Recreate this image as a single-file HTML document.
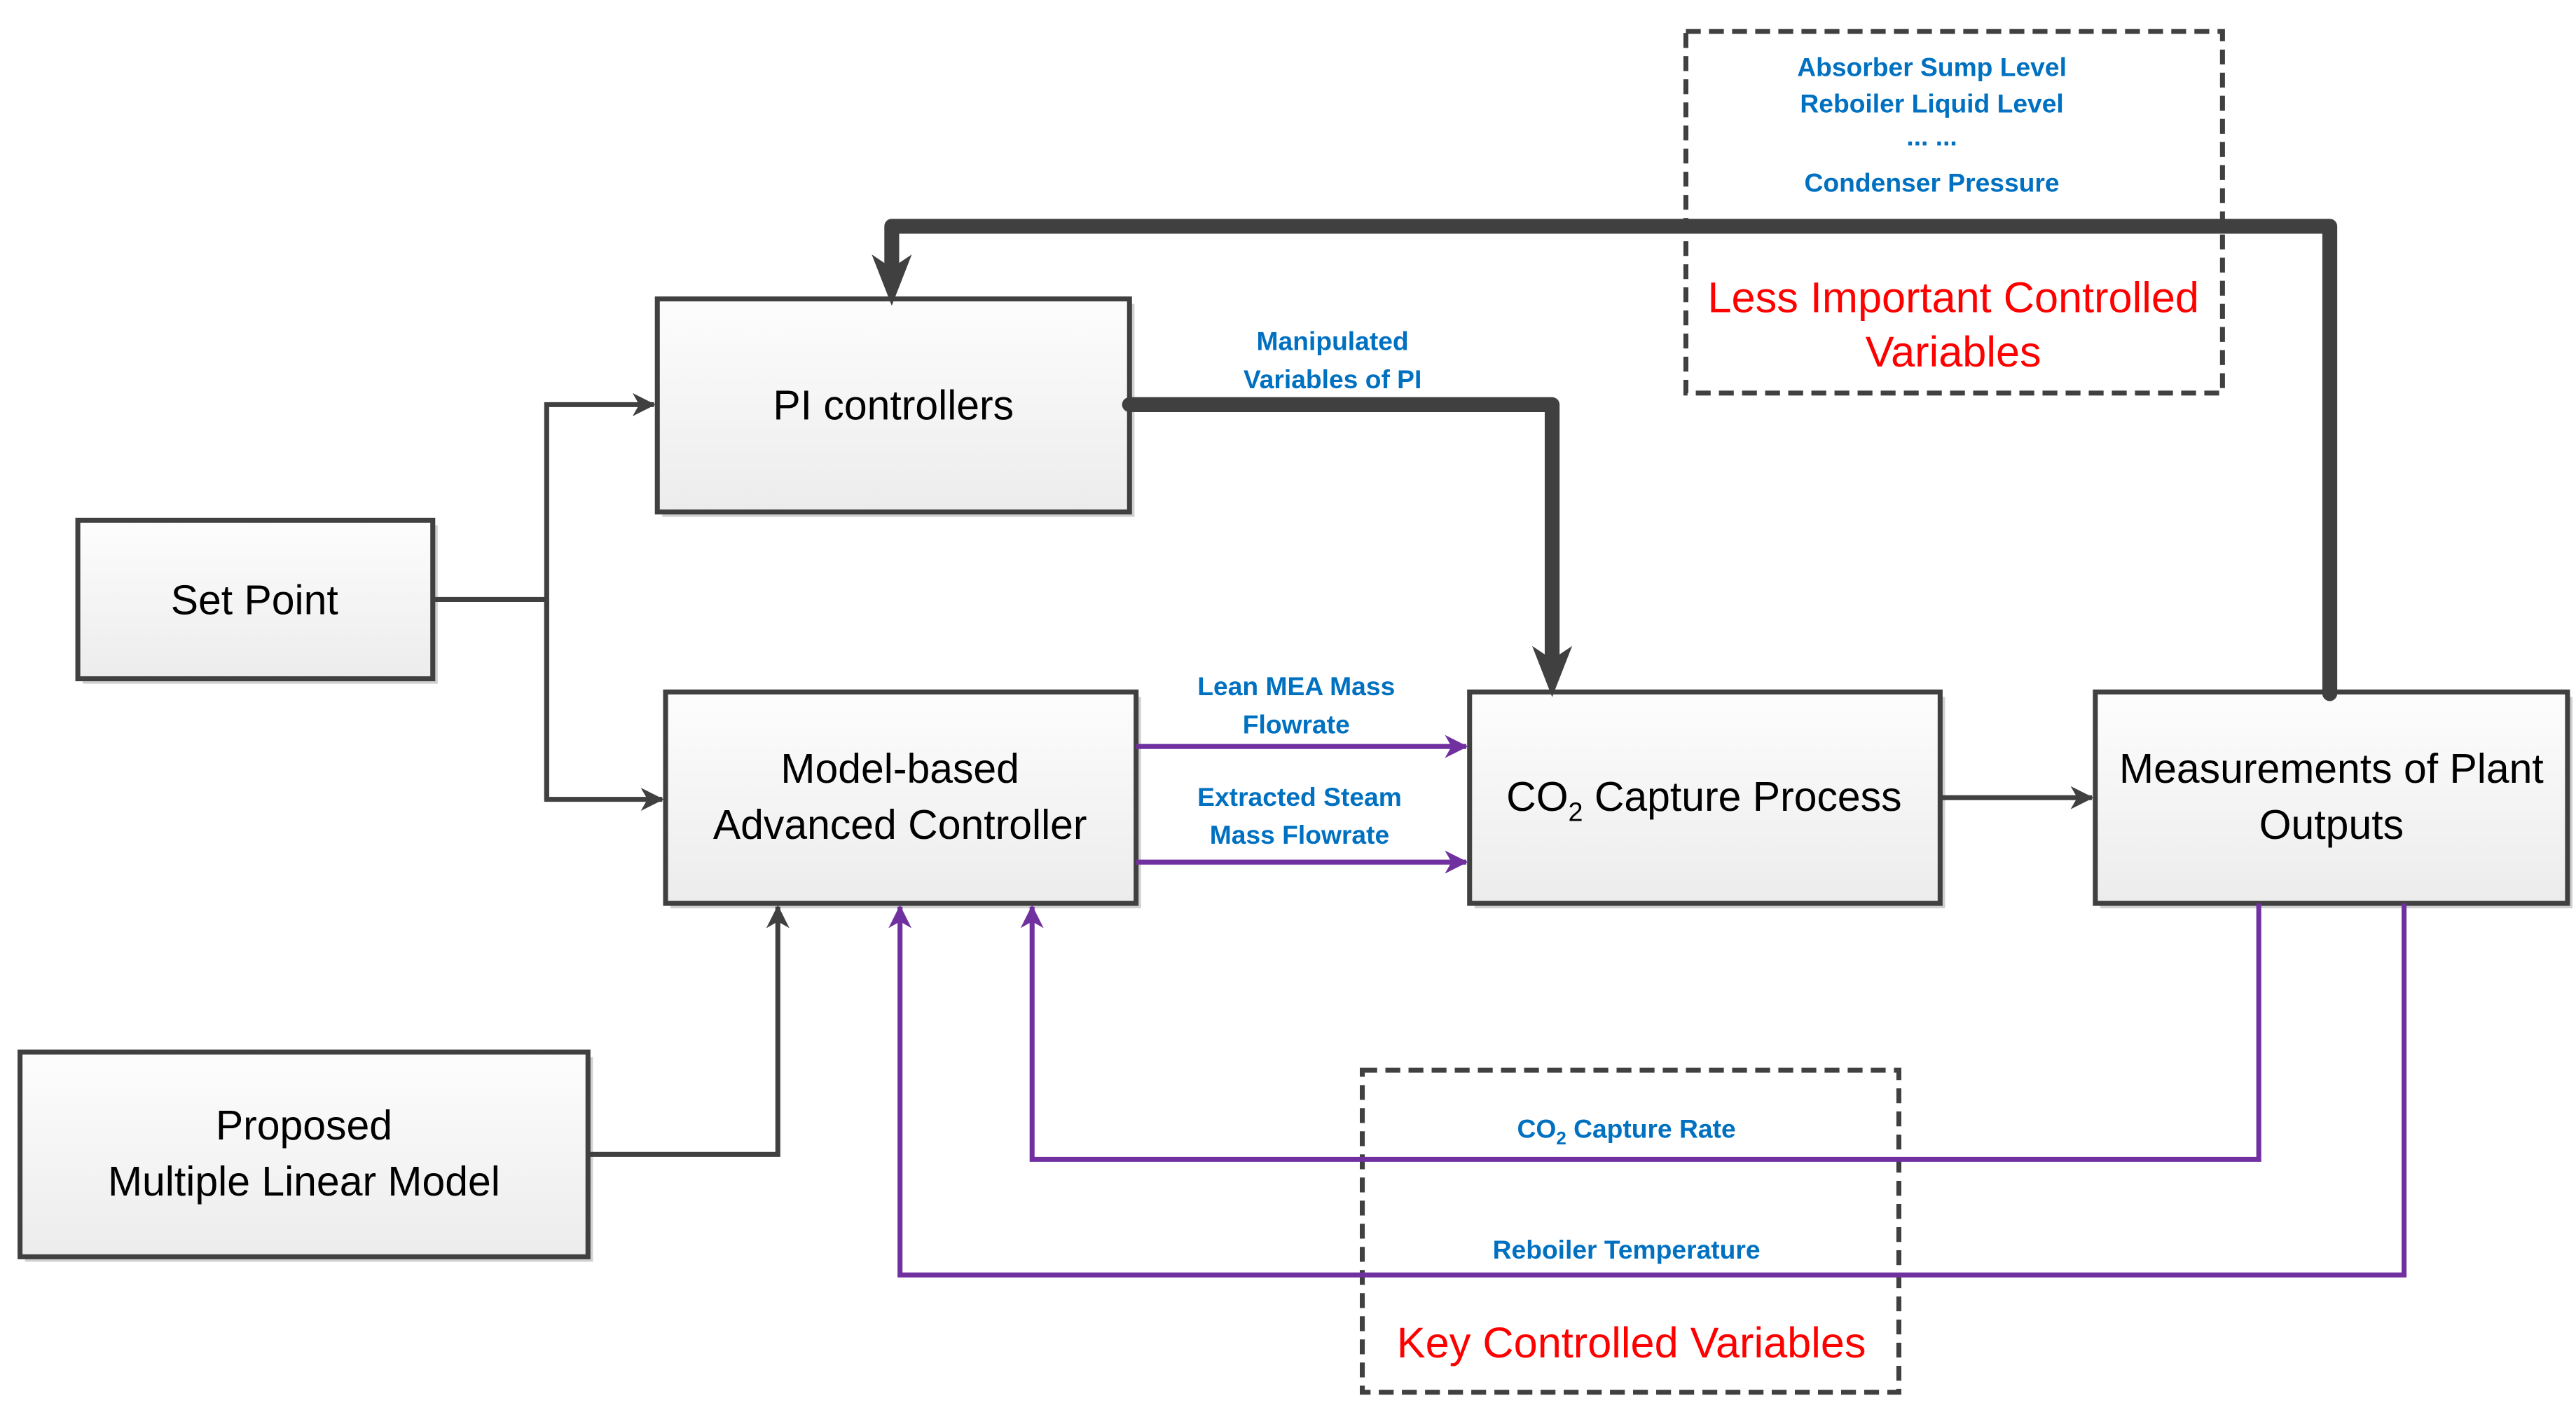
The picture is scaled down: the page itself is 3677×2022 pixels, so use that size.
<!DOCTYPE html>
<html><head><meta charset="utf-8"><style>html,body{margin:0;padding:0;background:#fff}svg{display:block}</style></head>
<body>
<svg width="3677" height="2022" viewBox="0 0 1560 858" xmlns="http://www.w3.org/2000/svg" font-family="Liberation Sans, sans-serif">
<defs>
<linearGradient id="g" x1="0" y1="0" x2="0" y2="1"><stop offset="0" stop-color="#fdfdfd"/><stop offset="1" stop-color="#ececec"/></linearGradient>
<marker id="ag" markerWidth="14" markerHeight="14" refX="13" refY="7" orient="auto" markerUnits="userSpaceOnUse"><path d="M0,0 L14,7 L0,14 L4,7 z" fill="#404040"/></marker>
<marker id="ap" markerWidth="14" markerHeight="14" refX="13" refY="7" orient="auto" markerUnits="userSpaceOnUse"><path d="M0,0 L14,7 L0,14 L4,7 z" fill="#7030a0"/></marker>
</defs>
<g fill="#d0d0d0">
<rect x="50" y="318" width="215" height="96"/><rect x="401" y="184" width="286" height="129"/><rect x="406" y="422" width="285" height="128"/><rect x="15" y="640" width="344" height="124"/><rect x="893" y="422" width="285" height="128"/><rect x="1272" y="422" width="286" height="128"/>
</g>
<g fill="url(#g)" stroke="#404040" stroke-width="3">
<rect x="47" y="315" width="215" height="96"/><rect x="398" y="181" width="286" height="129"/><rect x="403" y="419" width="285" height="128"/><rect x="12" y="637" width="344" height="124"/><rect x="890" y="419" width="285" height="128"/><rect x="1269" y="419" width="286" height="128"/>
</g>
<g fill="none" stroke="#404040" stroke-width="3" stroke-dasharray="9,5">
<rect x="1021" y="19" width="325" height="219"/><rect x="825" y="648" width="325" height="195"/>
</g>
<g fill="none" stroke="#404040" stroke-width="3">
<polyline points="262,363 331,363"/><polyline points="331,484 331,245 396,245" marker-end="url(#ag)"/><polyline points="331,363 331,484 401,484" marker-end="url(#ag)"/>
<polyline points="356,699 471,699 471,549" marker-end="url(#ag)"/>
<polyline points="1175,483 1267,483" marker-end="url(#ag)"/>
</g>
<g fill="none" stroke="#404040" stroke-width="9" stroke-linejoin="round" stroke-linecap="round">
<polyline points="1411,420 1411,137 540,137 540,166" /><polyline points="684,245 940,245 940,400"/>
</g>
<path d="M531,158 L540,181 L549,158 L540,164 z" fill="#404040" stroke="#404040" stroke-width="3"/>
<path d="M931,395 L940,418 L949,395 L940,401 z" fill="#404040" stroke="#404040" stroke-width="3"/>
<g fill="none" stroke="#7030a0" stroke-width="3">
<polyline points="688,452 888,452" marker-end="url(#ap)"/><polyline points="688,522 888,522" marker-end="url(#ap)"/>
<polyline points="1368,547 1368,702 625,702 625,549" marker-end="url(#ap)"/>
<polyline points="1456,547 1456,772 545,772 545,549" marker-end="url(#ap)"/>
</g>
<g fill="#000" font-size="25" text-anchor="middle">
<text x="154" y="372">Set Point</text>
<text x="541" y="254">PI controllers</text>
<text x="545" y="474">Model-based</text><text x="545" y="508">Advanced Controller</text>
<text x="184" y="690">Proposed</text><text x="184" y="724">Multiple Linear Model</text>
<text x="1032" y="491">CO<tspan font-size="16" dy="6">2</tspan><tspan dy="-6"> Capture Process</tspan></text>
<text x="1412" y="474">Measurements of Plant</text><text x="1412" y="508">Outputs</text>
</g>
<g fill="#0070c0" font-size="15.8" font-weight="bold" text-anchor="middle">
<text x="807" y="212">Manipulated</text><text x="807" y="235">Variables of PI</text>
<text x="785" y="421">Lean MEA Mass</text><text x="785" y="444">Flowrate</text>
<text x="787" y="488">Extracted Steam</text><text x="787" y="511">Mass Flowrate</text>
<text x="985" y="689">CO<tspan font-size="11" dy="4">2</tspan><tspan dy="-4"> Capture Rate</tspan></text>
<text x="985" y="762">Reboiler Temperature</text>
<text x="1170" y="46">Absorber Sump Level</text><text x="1170" y="68">Reboiler Liquid Level</text>
<text x="1170" y="88">... ...</text><text x="1170" y="116">Condenser Pressure</text>
</g>
<g fill="#ff0000" font-size="26" text-anchor="middle">
<text x="1183" y="189">Less Important Controlled</text><text x="1183" y="222">Variables</text>
<text x="988" y="822">Key Controlled Variables</text>
</g>
</svg>
</body></html>
